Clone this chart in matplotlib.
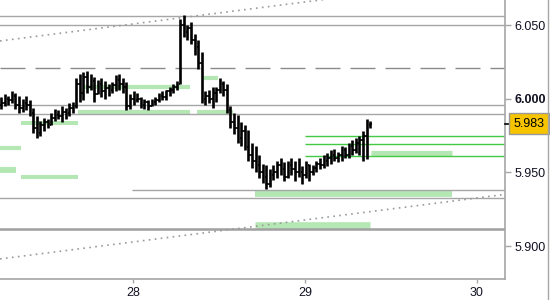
import matplotlib
matplotlib.use("Agg")
import matplotlib.pyplot as plt
import matplotlib.transforms as mtransforms
from matplotlib.lines import Line2D
import numpy as np

# ---------------- data ----------------
start_day = 27.234          # first bar (day of month, fractional)
bar_step = 1 / 48           # 30-minute bars

highs = [6.001, 6.003, 6.002, 6.005, 6.004, 6.002, 6.000, 6.002, 5.999, 5.994,
         5.988, 5.985, 5.987, 5.986, 5.990, 5.993, 5.992, 5.995, 5.994, 5.997,
         5.998, 6.014, 6.017, 6.018, 6.019, 6.017, 6.015, 6.013, 6.014, 6.012,
         6.010, 6.011, 6.016, 6.017, 6.014, 6.011, 6.003, 6.005, 6.004, 6.001,
         6.000, 5.999, 6.000, 6.001, 6.004, 6.005, 6.006, 6.008, 6.010, 6.012,
         6.054, 6.057, 6.050, 6.052, 6.044, 6.040, 6.032, 6.005, 6.006, 6.008,
         6.008, 6.014, 6.012, 6.010, 5.995, 5.990, 5.989, 5.984, 5.982, 5.979,
         5.970, 5.968, 5.962, 5.956, 5.955, 5.952, 5.955, 5.958, 5.960, 5.957,
         5.958, 5.960, 5.958, 5.960, 5.954, 5.958, 5.956, 5.955, 5.958, 5.960,
         5.962, 5.963, 5.965, 5.966, 5.964, 5.968, 5.967, 5.970, 5.972, 5.973,
         5.975, 5.978, 5.986, 5.985]
lows = [5.993, 5.995, 5.996, 5.997, 5.993, 5.990, 5.991, 5.992, 5.988, 5.977,
        5.973, 5.975, 5.978, 5.980, 5.982, 5.985, 5.986, 5.984, 5.986, 5.988,
        5.990, 5.994, 5.998, 5.999, 6.004, 6.006, 5.998, 6.003, 6.001, 6.000,
        6.002, 6.004, 6.005, 6.006, 6.004, 5.992, 5.993, 5.996, 5.998, 5.994,
        5.993, 5.992, 5.995, 5.996, 5.998, 5.999, 5.999, 6.002, 6.004, 6.006,
        6.010, 6.042, 6.040, 6.037, 6.030, 6.020, 5.997, 5.996, 5.997, 5.994,
        5.998, 6.004, 6.002, 5.990, 5.980, 5.976, 5.970, 5.968, 5.965, 5.958,
        5.953, 5.950, 5.946, 5.943, 5.939, 5.940, 5.945, 5.946, 5.948, 5.944,
        5.946, 5.948, 5.944, 5.947, 5.942, 5.946, 5.944, 5.948, 5.950, 5.952,
        5.953, 5.954, 5.956, 5.958, 5.957, 5.958, 5.960, 5.960, 5.962, 5.963,
        5.962, 5.958, 5.959, 5.980]
closes = [5.997, 6.000, 5.999, 6.002, 5.996, 5.994, 5.997, 5.996, 5.990, 5.980,
          5.977, 5.982, 5.984, 5.982, 5.987, 5.989, 5.988, 5.991, 5.990, 5.994,
          5.995, 6.010, 6.004, 6.015, 6.008, 6.012, 6.003, 6.010, 6.005, 6.007,
          6.006, 6.009, 6.013, 6.010, 6.008, 5.995, 6.000, 5.999, 6.000, 5.996,
          5.998, 5.995, 5.998, 5.999, 6.002, 6.001, 6.005, 6.006, 6.008, 6.010,
          6.050, 6.045, 6.048, 6.040, 6.035, 6.024, 6.000, 6.002, 6.000, 6.004,
          6.006, 6.010, 6.006, 5.992, 5.984, 5.980, 5.973, 5.978, 5.967, 5.962,
          5.958, 5.955, 5.950, 5.947, 5.942, 5.948, 5.950, 5.955, 5.952, 5.947,
          5.955, 5.952, 5.950, 5.950, 5.948, 5.955, 5.950, 5.953, 5.956, 5.955,
          5.958, 5.960, 5.962, 5.960, 5.962, 5.965, 5.962, 5.968, 5.965, 5.970,
          5.972, 5.975, 5.982, 5.983]
first_open = 5.996
last_price = 5.983

# grey horizontal levels (full width)
grey_levels = [6.0564, 6.0502, 5.9957, 5.9896, 5.9326]
grey_short_level = 5.9380
grey_short_start = 27.995
thick_level = 5.9113
dashed_level = 6.0208

# thin green lines
green_line_levels = [5.9747, 5.9692, 5.9611]
green_line_start = 29.001

# light green zones: (start day, end day, level)
zone_starts = [27.20, 27.20, 27.350, 27.350, 27.681, 27.716, 28.373, 28.402, 28.711, 29.385, 28.711]
zone_ends   = [27.350, 27.321, 27.681, 27.681, 28.333, 28.333, 28.583, 28.495, 29.856, 29.856, 29.379]
zone_levels = [5.9667, 5.9518, 5.9467, 5.9834, 5.9912, 6.0081, 5.9912, 6.0143, 5.9356, 5.9630, 5.9140]

# dotted trend lines: (day, price) endpoints
upper_trend_days = [27.228, 29.15]
upper_trend_prices = [6.0392, 6.0679]
lower_trend_days = [27.228, 30.147]
lower_trend_prices = [5.8912, 5.9348]

yticks = [5.900, 5.950, 6.000, 6.050]
ytick_labels = ["5.900", "5.950", "6.000", "6.050"]
xticks = [28, 29, 30]
xtick_labels = ["28", "29", "30"]

# ---------------- figure ----------------
FONT = ["Liberation Sans", "DejaVu Sans"]
W, H = 550, 300
fig = plt.figure(figsize=(W / 100, H / 100), dpi=100)
fig.patch.set_facecolor("white")
ax = fig.add_axes([0, 1 - 279 / H, 505 / W, 279 / H])
ax.set_xlim(27.228, 30.163)
ax.set_ylim(5.8776, 6.067)

# zone thickness in points (px * 0.72)
zone_lw = [3.0, 4.3, 2.9, 2.9, 3.0, 3.0, 3.0, 3.0, 4.3, 3.8, 4.8]
zone_color = "#b5e7b5"
for s, e, lv, lw in zip(zone_starts, zone_ends, zone_levels, zone_lw):
    ax.hlines(lv, s, e, colors=zone_color, linewidth=lw, zorder=1)

grey = "#a6a6a6"
for lv in grey_levels:
    ax.axhline(lv, color=grey, linewidth=1.0, zorder=2)
ax.hlines(grey_short_level, grey_short_start, 30.163, colors=grey, linewidth=1.0, zorder=2)
ax.axhline(thick_level, color="#a0a0a0", linewidth=1.8, zorder=2)
ax.axhline(dashed_level, color="#8a8a8a", linewidth=1.0, dashes=(18, 7.2), zorder=2)

for lv in green_line_levels:
    ax.hlines(lv, green_line_start, 30.163, colors="#44c944", linewidth=1.0, zorder=2)

ax.plot(upper_trend_days, upper_trend_prices, color="#9a9a9a", linewidth=1.2,
        linestyle=(0, (1, 2.6)), zorder=3)
ax.plot(lower_trend_days, lower_trend_prices, color="#9a9a9a", linewidth=1.2,
        linestyle=(0, (1, 2.6)), zorder=3)

# OHLC bars
n = len(highs)
times = start_day + bar_step * np.arange(n)
opens = [first_open] + closes[:-1]
ax.vlines(times, lows, highs, colors="black", linewidth=1.9, zorder=5)
tick = bar_step * 0.45
ax.hlines(opens, times - tick, times, colors="black", linewidth=1.2, zorder=5)
ax.hlines(closes, times, times + tick, colors="black", linewidth=1.2, zorder=5)

# axes styling
for side in ["left", "top"]:
    ax.spines[side].set_visible(False)
for side in ["right", "bottom"]:
    ax.spines[side].set_color("#a6a6a6")
    ax.spines[side].set_linewidth(1.2)

ax.yaxis.tick_right()
ax.set_yticks(yticks)
ax.set_yticklabels(ytick_labels, family=FONT)
ax.set_xticks(xticks)
ax.set_xticklabels(xtick_labels, family=FONT)
ax.tick_params(axis="y", direction="out", length=4, width=1, color="#a6a6a6",
               labelsize=9, labelcolor="#111122", pad=2.5)
ax.tick_params(axis="x", direction="out", length=3, width=1, color="#a6a6a6",
               labelsize=9, labelcolor="#111122", pad=3)
for lab in ax.get_yticklabels():
    if lab.get_text() == "6.000":
        lab.set_fontweight("bold")

# last price label
trans = mtransforms.blended_transform_factory(ax.transAxes, ax.transData)
ax.plot([1.0, 1.008], [last_price, last_price], color="black", linewidth=1.2,
        transform=trans, clip_on=False, zorder=6)
ax.text(1.0165, last_price, f"{last_price:.3f}", transform=trans, ha="left", va="center",
        fontsize=9, family=FONT, color="black", zorder=7,
        bbox=dict(boxstyle="square,pad=0.36", fc="#f7c400", ec="#9a9a9a", lw=1.0))

# right border line of the figure
fig.add_artist(Line2D([548 / W, 548 / W], [0, 1], transform=fig.transFigure,
                      color="#a6a6a6", linewidth=1.0))

fig.savefig("out.png", dpi=100, facecolor="white")
